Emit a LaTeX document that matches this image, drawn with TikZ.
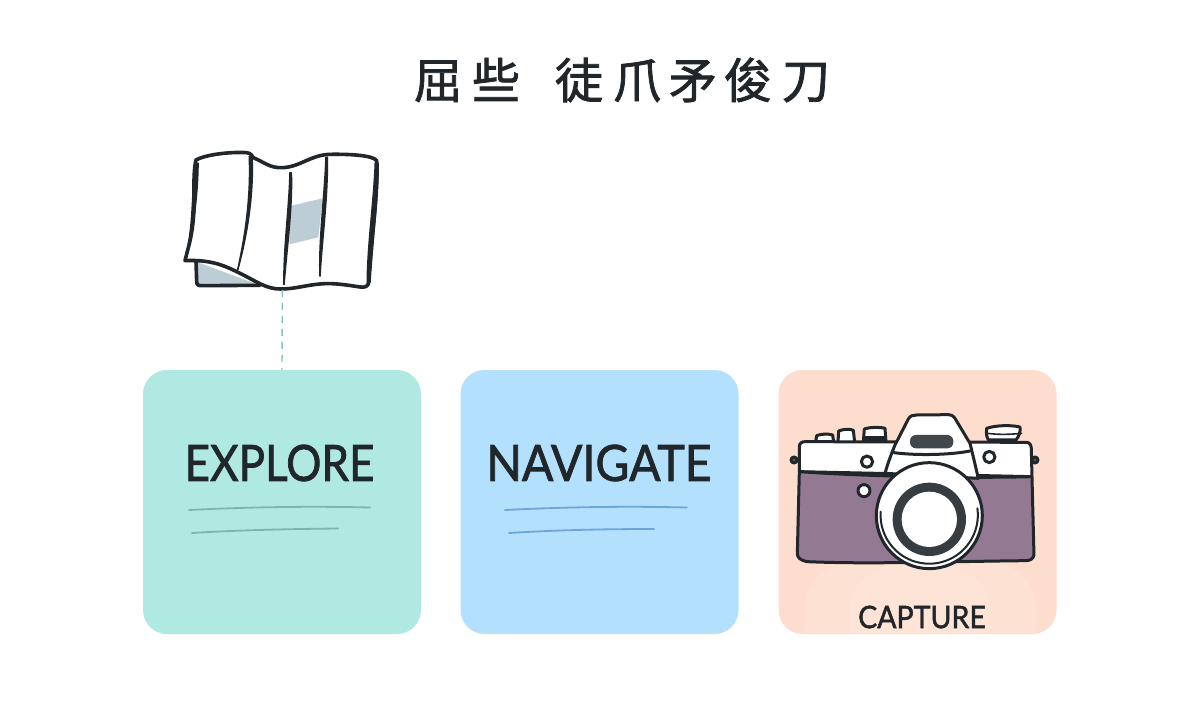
\documentclass[tikz,border=0pt]{standalone}
\usepackage{fontspec}
\setmainfont{Lato}[FakeBold=1.2]
\newfontfamily\wordfont{Lato}[FakeBold=1.6]
\newfontfamily\cjkfont{Noto Sans CJK SC}[FakeBold=1.6]
\usetikzlibrary{calc}
\definecolor{ink}{HTML}{20262A}
\definecolor{teal}{HTML}{B0E9E2}
\definecolor{sky}{HTML}{B3E0FD}
\definecolor{peach}{HTML}{FDDECE}
\definecolor{glowa}{HTML}{FDE1D2}
\definecolor{glowb}{HTML}{FDE4D7}
\definecolor{plum}{HTML}{937A92}
\definecolor{slate}{HTML}{BCCDD5}
\definecolor{dashc}{HTML}{86C3C6}
\definecolor{tealline}{HTML}{7DB5AE}
\definecolor{skyline}{HTML}{6CA7DA}
\tikzset{
  card/.style={minimum width=278pt,minimum height=264pt,inner sep=0pt,rounded corners=24pt},
  cardword/.style={inner sep=0pt,text=ink},
  stroke/.style={draw=ink,line width=3.6pt,line cap=round,line join=round},
  foldline/.style={fill=ink,draw=ink,line width=1.6pt,line join=round},
  camline/.style={draw=ink,line width=3pt,line cap=round,line join=round},
  rule/.style={line width=1.8pt,line cap=round}
}
\begin{document}
\begin{tikzpicture}[x=1pt,y=-1pt]
\useasboundingbox (0,0) rectangle (1200,720);
\fill[white] (0,0) rectangle (1200,720);
% title
\node[inner sep=0pt,text=ink,font=\cjkfont\fontsize{48}{48}\selectfont] (title) at (622,80)
  {屈\hspace{10pt}些\hspace{35pt}徒\hspace{10pt}爪\hspace{8pt}矛\hspace{7pt}俊\hspace{10pt}刀};
% cards
\node[card,fill=teal] (explore) at (282,502) {};
\node[card,fill=sky] (navigate) at (599.5,502) {};
\node[card,fill=peach] (capture) at (917.5,502) {};
\node[cardword,font=\wordfont\fontsize{50}{50}\selectfont] (t1) at (279.5,463) {\scalebox{0.88}[1]{EXPLORE}};
\node[cardword,font=\wordfont\fontsize{50}{50}\selectfont] (t2) at (599,463) {\scalebox{0.93}[1]{NAVIGATE}};
\draw[rule,tealline] (189,510) .. controls (250,507) and (310,506) .. (370,507.5);
\draw[rule,tealline] (192,533) .. controls (240,530) and (290,529) .. (338,528.5);
\draw[rule,skyline] (505,510) .. controls (565,507) and (625,506) .. (687,507.5);
\draw[rule,skyline] (509,533) .. controls (557,530) and (605,529) .. (654,529);
% map
\begin{scope}[shift={(170,140)},x=0.3333pt,y=-0.3333pt]
  \path[stroke,fill=slate] (78,365) -- (80,425) .. controls (80,435) and (85,437) .. (95,437) -- (270,436);
  \path[stroke,fill=white] (78,60) .. controls (110,42) and (190,35) .. (230,38)
     .. controls (245,40) and (245,48) .. (250,53)
     .. controls (285,68) and (300,84) .. (335,83)
     .. controls (390,82) and (420,45) .. (480,43)
     .. controls (530,42) and (610,45) .. (620,62)
     .. controls (625,130) and (605,300) .. (597,425)
     .. controls (595,440) and (585,443) .. (570,441)
     .. controls (530,435) and (490,428) .. (450,432)
     .. controls (410,435) and (370,448) .. (330,447)
     .. controls (290,447) and (260,425) .. (220,405)
     .. controls (170,380) and (130,358) .. (45,362)
     .. controls (55,320) and (70,280) .. (72,200)
     .. controls (72,150) and (70,90) .. (78,60) -- cycle;
  \fill[slate] (360,198) -- (458,175) -- (445,292) -- (358,313) -- cycle;
  % tapered folds
  \path[foldline] (238,50) .. controls (242,150) and (232,260) .. (203,390)
     .. controls (228,300) and (252,170) .. (246,50) -- cycle;
  \path[foldline] (360,98) .. controls (358,200) and (340,330) .. (342,434)
     .. controls (350,330) and (368,200) .. (364,98) -- cycle;
  \path[foldline] (468,52) .. controls (464,170) and (446,300) .. (450,408)
     .. controls (456,300) and (474,170) .. (472,52) -- cycle;
  \path[foldline] (76,70) .. controls (66,130) and (72,250) .. (48,350)
     .. controls (70,280) and (84,150) .. (84,70) -- cycle;
  \path[foldline] (616,70) .. controls (612,180) and (592,320) .. (592,430)
     .. controls (606,320) and (626,180) .. (624,70) -- cycle;
  \coordinate (mapfoot) at (337,450);
\end{scope}
\draw[dashc,line width=1.4pt,dash pattern=on 7pt off 6pt] (mapfoot) -- (explore.north);
% camera
\begin{scope}[shift={(770,365)},x=0.3333pt,y=-0.3333pt]
  \begin{scope}
    \clip[rounded corners=24pt] (25,15) rectangle (860,805);
    \fill[glowa] (105,805) -- (105,720) .. controls (120,620) and (200,560) .. (450,560) .. controls (700,560) and (785,620) .. (800,720) -- (800,805) -- cycle;
    \fill[glowb] (238,805) -- (238,720) .. controls (250,640) and (330,590) .. (450,590) .. controls (570,590) and (650,640) .. (662,720) -- (662,805) -- cycle;
  \end{scope}
  % strap lugs
  \path[camline,fill=ink!75] (72,285) circle (9);
  \path[camline,fill=ink!75] (795,285) circle (9);
  % top controls
  \path[camline,fill=white] (137,230) -- (140,212) .. controls (155,206) and (175,206) .. (188,210) -- (191,232);
  \path[camline,fill=white] (204,232) -- (206,198) .. controls (220,192) and (240,191) .. (250,196) -- (254,232);
  \path[camline,fill=white] (280,232) -- (283,192) .. controls (300,186) and (330,186) .. (345,190) -- (348,232);
  \fill[ink] (283,212) rectangle (347,232);
  \path[camline,fill=white] (655,225) .. controls (648,210) and (648,200) .. (650,190)
     .. controls (680,180) and (725,180) .. (750,186) .. controls (752,200) and (748,212) .. (738,225) -- cycle;
  \draw[camline,line width=1.6pt] (652,205) .. controls (690,210) and (725,208) .. (755,205);
  % body
  \path[camline,fill=white] (88,320) -- (88,245) .. controls (88,235) and (95,230) .. (105,230)
     -- (770,232) .. controls (780,233) and (783,240) .. (784,250) -- (786,335) -- cycle;
  \path[camline,fill=plum] (88,320) .. controls (300,335) and (600,340) .. (786,335)
     -- (792,570) .. controls (790,582) and (780,586) .. (770,587)
     .. controls (500,590) and (300,598) .. (110,590) .. controls (90,585) and (82,578) .. (82,565) -- cycle;
  \path[camline,fill=white] (291,290) circle (17);
  \path[camline,fill=white] (658,276) circle (17);
  \path[camline,fill=white] (282,377) circle (18);
  % prism
  \path[camline,fill=white] (345,325) .. controls (355,290) and (365,265) .. (375,240)
     -- (415,162) .. controls (420,152) and (430,150) .. (440,150)
     -- (535,149) .. controls (548,150) and (552,155) .. (558,165)
     -- (600,235) .. controls (610,275) and (618,310) .. (625,340) -- cycle;
  \draw[camline] (372,263) .. controls (440,272) and (540,270) .. (600,258);
  \path[fill=ink!85,rounded corners=6pt] (420,210) rectangle (550,250);
  % lens
  \path[camline,fill=white] (478,452) circle (159);
  \draw[camline,line width=2pt] (332,440) arc (184:-8:146);
  \fill[ink!90] (478,463) circle (110);
  \fill[white] (478,463) circle (83);
\end{scope}
\node[cardword,font=\wordfont\fontsize{31}{31}\selectfont] (t3) at (922,617) {\scalebox{0.92}[1]{CAPTURE}};
\end{tikzpicture}
\end{document}
